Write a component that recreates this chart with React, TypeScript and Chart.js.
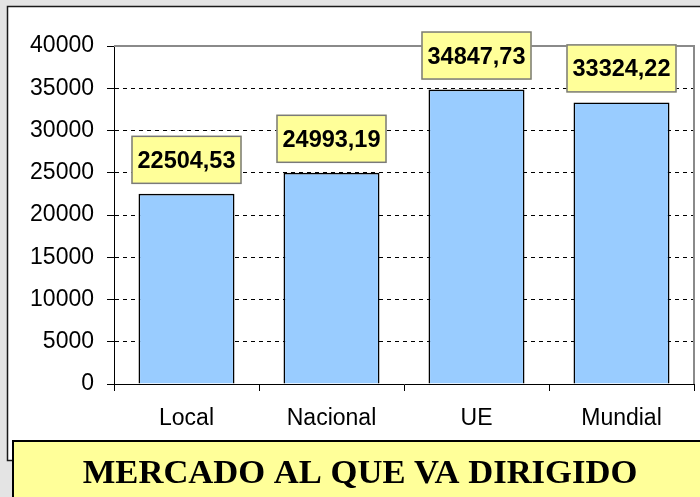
import React, { useEffect, useRef } from "react";
import { Chart, registerables } from "chart.js";

Chart.register(...registerables);

const categories = ["Local", "Nacional", "UE", "Mundial"];
const values = [22504.53, 24993.19, 34847.73, 33324.22];
const yTicks = [0, 5000, 10000, 15000, 20000, 25000, 30000, 35000, 40000];
const titleText = "MERCADO AL QUE VA DIRIGIDO";

const W = 700;
const H = 497;

const fmt = (v: number) => v.toFixed(2).replace(".", ",");

const framePlugin = {
  id: "frame",
  beforeDraw(chart: any) {
    const ctx = chart.ctx;
    ctx.save();
    ctx.fillStyle = "#e4e4e4";
    ctx.fillRect(0, 0, W, H);
    ctx.fillStyle = "#ffffff";
    ctx.fillRect(7, 6, 720, 455);
    ctx.strokeStyle = "#1a1a1a";
    ctx.lineWidth = 1.5;
    ctx.strokeRect(7.5, 6.5, 720, 454);
    ctx.restore();
  },
  afterDraw(chart: any) {
    const ctx = chart.ctx;
    const area = chart.chartArea;
    ctx.save();
    ctx.strokeStyle = "#8a8a8a";
    ctx.lineWidth = 2;
    ctx.beginPath();
    ctx.moveTo(area.left, area.top);
    ctx.lineTo(area.right, area.top);
    ctx.lineTo(area.right, area.bottom);
    ctx.stroke();

    const meta = chart.getDatasetMeta(0);
    meta.data.forEach((bar: any, i: number) => {
      const bw = 110;
      const bh = 48;
      const bx = bar.x - bw / 2;
      const by = bar.y - 10 - bh;
      ctx.fillStyle = "#ffff99";
      ctx.fillRect(bx, by, bw, bh);
      ctx.strokeStyle = "#7a7a7a";
      ctx.lineWidth = 1.5;
      ctx.strokeRect(bx + 0.5, by + 0.5, bw - 1, bh - 1);
      ctx.fillStyle = "#000";
      ctx.font = "bold 23.5px 'Liberation Sans', Arial, sans-serif";
      ctx.textAlign = "center";
      ctx.textBaseline = "alphabetic";
      ctx.fillText(fmt(values[i]), bar.x, by + 32);
    });

    ctx.fillStyle = "#ffff99";
    ctx.fillRect(12, 441, 720, 100);
    ctx.strokeStyle = "#000";
    ctx.lineWidth = 2;
    ctx.strokeRect(13, 441, 720, 100);
    ctx.fillStyle = "#000";
    ctx.font = "bold 34.6px 'Liberation Serif', 'Times New Roman', serif";
    ctx.textAlign = "center";
    ctx.textBaseline = "alphabetic";
    ctx.fillText(titleText, 360, 483);
    ctx.restore();
  },
};

export default function App() {
  const ref = useRef<HTMLCanvasElement | null>(null);

  useEffect(() => {
    if (!ref.current) return;
    const chart = new Chart(ref.current, {
      type: "bar",
      data: {
        labels: categories,
        datasets: [
          {
            data: values,
            backgroundColor: "#99ccff",
            borderColor: "#000000",
            borderWidth: 1.6,
            categoryPercentage: 1,
            barPercentage: 0.662,
          },
        ],
      },
      options: {
        responsive: false,
        animation: false,
        devicePixelRatio: 1,
        layout: { padding: { left: 0, top: 46, right: 6, bottom: 0 } },
        plugins: {
          legend: { display: false },
          tooltip: { enabled: false },
          title: { display: false },
        },
        scales: {
          x: {
            offset: true,
            grid: {
              offset: true,
              drawOnChartArea: false,
              drawTicks: true,
              tickLength: 7,
              tickColor: "#000",
              color: "#000",
            },
            border: { display: true, color: "#000", width: 1 },
            ticks: {
              color: "#000",
              padding: 14,
              font: { family: "'Liberation Sans', Arial, sans-serif", size: 23 },
            },
            afterFit(scale: any) {
              scale.height = H - 384;
            },
          },
          y: {
            min: 0,
            max: 40000,
            afterBuildTicks(scale: any) {
              scale.ticks = yTicks.map((v) => ({ value: v }));
            },
            grid: {
              color: (c: any) =>
                c.tick && (c.tick.value === 0 || c.tick.value === 40000)
                  ? "rgba(0,0,0,0)"
                  : "#000",
              tickColor: "#000",
              tickLength: 7,
              lineWidth: 1,
            },
            border: { display: true, color: "#000", width: 1, dash: [4, 4] },
            ticks: {
              color: "#000",
              padding: 13,
              font: { family: "'Liberation Sans', Arial, sans-serif", size: 23 },
              callback: (v: any) => String(v),
            },
            afterFit(scale: any) {
              scale.width = 114;
            },
          },
        },
      },
      plugins: [framePlugin],
    });
    return () => chart.destroy();
  }, []);

  return (
    <div style={{ position: "absolute", left: 0, top: 0, width: W, height: H }}>
      <canvas ref={ref} width={W} height={H} style={{ width: W, height: H, display: "block" }} />
    </div>
  );
}
